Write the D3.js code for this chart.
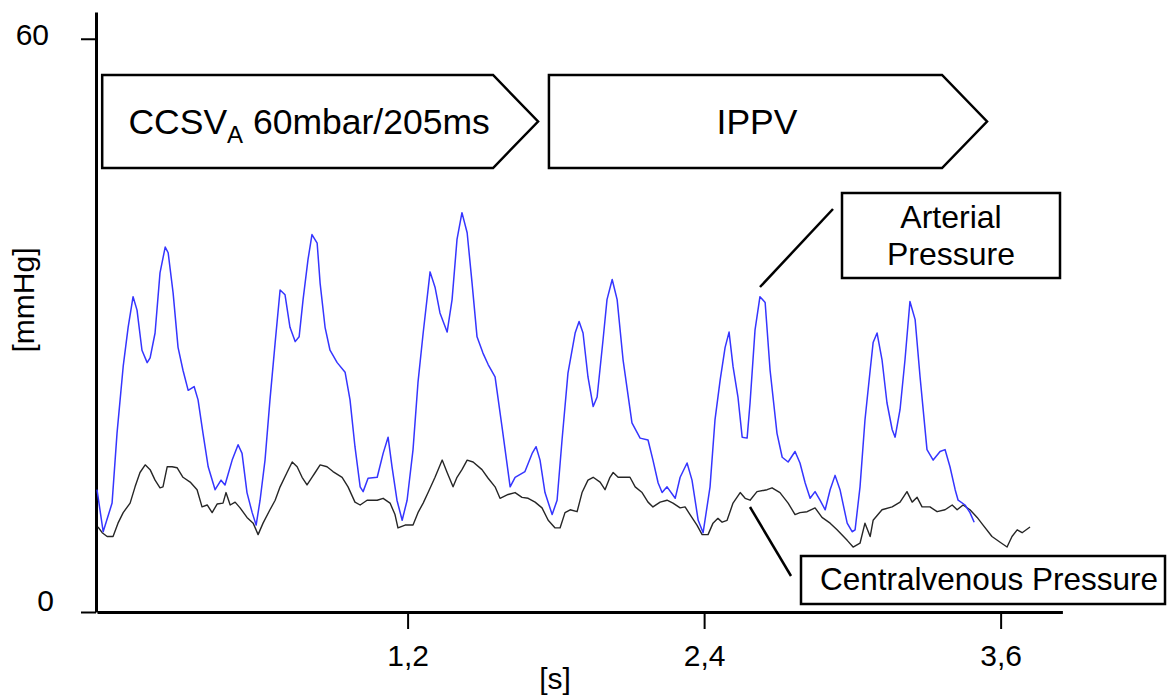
<!DOCTYPE html>
<html>
<head>
<meta charset="utf-8">
<script src="https://cdn.jsdelivr.net/npm/d3@7"></script>
<style>
  body { margin: 0; background: #fff; }
  svg { display: block; font-family: "Liberation Sans", Arial, sans-serif; }
</style>
</head>
<body>
<div id="chart"></div>
<script>
// arterial pressure trace (blue), time in s, pressure in mmHg
var artTime = [-0.057,-0.032,0.004,0.024,0.049,0.069,0.089,0.105,0.125,0.146,0.158,0.178,0.198,0.219,0.231,0.251,0.271,0.291,0.312,0.336,0.352,0.372,0.393,0.421,0.445,0.461,0.490,0.514,0.530,0.550,0.571,0.587,0.603,0.623,0.643,0.664,0.684,0.704,0.724,0.745,0.761,0.777,0.797,0.813,0.834,0.846,0.866,0.886,0.915,0.947,0.967,0.987,1.008,1.020,1.040,1.077,1.101,1.121,1.137,1.157,1.178,1.198,1.222,1.242,1.263,1.291,1.311,1.331,1.360,1.380,1.400,1.420,1.441,1.461,1.481,1.505,1.526,1.554,1.582,1.615,1.635,1.675,1.704,1.720,1.736,1.756,1.785,1.805,1.825,1.849,1.878,1.894,1.910,1.930,1.951,1.967,1.991,2.007,2.028,2.048,2.072,2.108,2.141,2.173,2.193,2.214,2.230,2.250,2.283,2.303,2.331,2.351,2.376,2.396,2.424,2.444,2.465,2.485,2.501,2.517,2.537,2.554,2.574,2.586,2.606,2.626,2.647,2.667,2.695,2.716,2.740,2.768,2.788,2.809,2.829,2.849,2.869,2.890,2.910,2.930,2.950,2.979,2.999,3.011,3.031,3.051,3.072,3.084,3.100,3.120,3.140,3.161,3.173,3.193,3.213,3.233,3.254,3.274,3.302,3.327,3.355,3.375,3.395,3.416,3.428,3.456,3.476,3.493];
var artPressure = [12.8,8.4,11.4,18.7,25.7,29.8,33.0,31.6,27.4,26.1,26.6,29.2,35.5,38.2,37.6,33.4,27.7,25.3,23.2,23.6,22.2,18.7,15.2,12.8,13.8,13.3,15.9,17.5,16.6,12.5,10.4,9.1,11.7,15.9,22.2,28.2,33.7,33.2,29.8,28.3,28.8,32.7,36.9,39.5,38.6,34.4,29.8,27.4,26.1,25.1,22.2,17.3,13.1,12.6,14.0,14.1,16.6,18.3,15.2,11.7,9.6,11.7,17.0,24.0,29.2,35.6,34.0,31.3,29.3,32.7,39.0,41.8,39.7,34.4,28.8,27.1,25.9,24.6,19.4,13.1,14.1,14.7,16.6,17.3,15.9,12.5,10.2,11.7,18.0,25.0,29.2,30.4,29.2,24.6,21.5,22.5,28.5,32.7,34.8,32.7,26.4,19.8,18.2,18.0,15.9,13.5,12.5,13.1,11.9,14.1,15.6,13.8,9.6,8.3,13.1,20.1,24.3,27.7,29.3,25.7,22.5,18.3,18.2,21.9,29.5,33.0,32.4,25.3,18.7,16.2,15.7,16.8,15.6,13.5,11.9,12.6,11.7,10.7,12.8,14.3,12.8,9.3,8.4,8.6,13.1,20.1,25.3,28.2,29.2,26.4,21.9,19.1,18.3,21.2,26.4,32.5,30.6,24.6,17.0,15.9,16.8,17.0,15.2,12.8,11.7,11.2,10.4,9.4];

// central venous pressure trace (black)
var cvpTime = [-0.053,-0.036,-0.016,0.008,0.028,0.049,0.077,0.097,0.117,0.138,0.158,0.178,0.198,0.210,0.227,0.247,0.267,0.291,0.320,0.348,0.368,0.389,0.409,0.429,0.453,0.465,0.482,0.502,0.522,0.550,0.575,0.595,0.615,0.643,0.664,0.684,0.712,0.733,0.753,0.773,0.793,0.813,0.826,0.846,0.874,0.898,0.935,0.959,0.987,1.008,1.036,1.077,1.101,1.129,1.149,1.161,1.190,1.222,1.242,1.263,1.283,1.311,1.340,1.360,1.384,1.400,1.420,1.441,1.465,1.501,1.526,1.554,1.574,1.607,1.635,1.663,1.688,1.716,1.744,1.769,1.797,1.817,1.837,1.858,1.886,1.906,1.930,1.951,1.979,1.999,2.019,2.032,2.052,2.080,2.100,2.121,2.149,2.173,2.193,2.222,2.250,2.274,2.303,2.323,2.343,2.371,2.392,2.416,2.436,2.456,2.473,2.493,2.517,2.546,2.566,2.586,2.614,2.655,2.675,2.707,2.740,2.768,2.788,2.817,2.849,2.877,2.910,2.938,2.979,3.003,3.031,3.051,3.072,3.084,3.120,3.161,3.193,3.221,3.242,3.262,3.282,3.314,3.343,3.375,3.404,3.424,3.448,3.476,3.505,3.529,3.565,3.598,3.626,3.646,3.667,3.687,3.719];
var cvpPressure = [8.9,8.3,7.9,7.9,9.3,10.4,11.4,13.1,14.6,15.4,14.9,13.8,13.0,13.1,15.2,15.2,15.1,14.1,13.6,12.8,11.0,11.2,10.4,11.3,11.4,12.5,11.2,11.5,10.9,9.9,9.3,8.1,9.3,10.7,11.7,13.1,14.6,15.7,15.2,14.1,13.3,14.1,14.6,15.4,15.2,14.7,14.1,13.1,11.5,11.2,11.7,11.7,11.9,11.4,10.2,8.8,9.1,9.1,10.4,11.4,12.5,14.1,15.9,14.6,13.1,14.1,14.9,15.9,15.7,14.9,14.0,13.1,11.9,12.3,12.5,12.0,11.9,11.5,10.9,9.6,8.8,8.8,10.4,10.7,10.5,12.5,13.8,14.1,13.6,12.8,14.1,14.6,14.1,14.1,14.1,13.1,12.5,11.5,11.0,11.5,11.7,11.4,10.9,11.0,10.2,9.1,8.1,8.1,9.3,9.8,9.4,9.6,11.4,12.5,11.9,11.7,12.6,12.8,13.0,12.5,11.4,10.2,10.4,10.5,10.9,9.9,9.3,8.6,7.5,6.8,7.2,9.3,7.9,9.6,10.7,11.0,11.5,12.6,11.5,12.0,11.0,11.0,10.5,10.7,11.2,10.7,11.2,10.7,9.9,9.1,7.9,7.3,6.8,7.9,8.6,8.3,8.9];

// ventilation phases (arrow boxes on top)
var phaseLabels = ["CCSV", "IPPV"];
var phaseSub = ["A", ""];
var phaseRest = [" 60mbar/205ms", ""];
var phaseStart = [-0.036, 1.772];
var phaseEnd = [1.728, 3.545];

var xTicks = [1.2, 2.4, 3.6];
var yTicks = [0, 60];

var width = 1170, height = 696;

var svg = d3.select("#chart").append("svg")
    .attr("width", width)
    .attr("height", height);

var x = d3.scaleLinear().domain([-0.057, 3.85]).range([97, 1062.4]);
var y = d3.scaleLinear().domain([0, 62.8]).range([612, 12]);

var deLocale = d3.formatLocale({ decimal: ",", thousands: ".", grouping: [3], currency: ["", "€"] });
var fmt = deLocale.format(".1f");

// axes
var yAxis = svg.append("g")
    .attr("transform", "translate(96,0)")
    .call(d3.axisLeft(y).tickValues(yTicks).tickSize(15).tickSizeOuter(0).tickPadding(32));
yAxis.select(".domain").attr("stroke-width", 3);
yAxis.selectAll(".tick line").attr("stroke-width", 2);
yAxis.selectAll(".tick text")
    .attr("font-size", 30)
    .attr("font-family", "Liberation Sans, Arial, sans-serif")
    .attr("fill", "#000")
    .attr("dx", function(d) { return d === 0 ? 5 : 0; })
    .attr("dy", function(d) { return d === 0 ? "-0.05em" : "0.2em"; });

var xAxis = svg.append("g")
    .attr("transform", "translate(0,612)")
    .call(d3.axisBottom(x).tickValues(xTicks).tickSize(17).tickSizeOuter(0).tickPadding(16).tickFormat(fmt));
xAxis.select(".domain").attr("stroke-width", 3);
xAxis.selectAll(".tick line").attr("stroke-width", 2);
xAxis.selectAll(".tick text")
    .attr("font-size", 30)
    .attr("font-family", "Liberation Sans, Arial, sans-serif")
    .attr("fill", "#000");

svg.append("text")
    .attr("x", 555).attr("y", 689)
    .attr("text-anchor", "middle")
    .attr("font-size", 30)
    .text("[s]");

svg.append("text")
    .attr("transform", "translate(34,300) rotate(-90)")
    .attr("text-anchor", "middle")
    .attr("font-size", 30)
    .text("[mmHg]");

// traces
var line = d3.line()
    .x(function(d) { return x(d[0]); })
    .y(function(d) { return y(d[1]); });

svg.append("path")
    .datum(d3.zip(cvpTime, cvpPressure))
    .attr("fill", "none")
    .attr("stroke", "#262626")
    .attr("stroke-width", 1.4)
    .attr("stroke-linejoin", "round")
    .attr("d", line);

svg.append("path")
    .datum(d3.zip(artTime, artPressure))
    .attr("fill", "none")
    .attr("stroke", "#3535ff")
    .attr("stroke-width", 1.5)
    .attr("stroke-linejoin", "round")
    .attr("d", line);

// phase arrows
var boxTop = 75, boxBottom = 168, tipLen = 45;
var phases = svg.selectAll(".phase")
  .data(d3.range(phaseLabels.length))
  .enter().append("g")
    .attr("class", "phase");

phases.append("path")
    .attr("fill", "#fff")
    .attr("stroke", "#000")
    .attr("stroke-width", 2.5)
    .attr("d", function(i) {
      var x0 = x(phaseStart[i]), x1 = x(phaseEnd[i]), mid = (boxTop + boxBottom) / 2;
      return "M" + x0 + "," + boxTop + "H" + (x1 - tipLen) + "L" + x1 + "," + mid
        + "L" + (x1 - tipLen) + "," + boxBottom + "H" + x0 + "Z";
    });

var ptext = phases.append("text")
    .attr("x", function(i) { return (x(phaseStart[i]) + x(phaseEnd[i])) / 2 - 11; })
    .attr("y", 134)
    .attr("text-anchor", "middle")
    .attr("font-size", 35.5);
ptext.append("tspan").text(function(i) { return phaseLabels[i]; });
ptext.append("tspan")
    .attr("font-size", 24)
    .attr("dy", 9)
    .text(function(i) { return phaseSub[i]; });
ptext.append("tspan")
    .attr("dy", function(i) { return phaseSub[i] ? -9 : 0; })
    .text(function(i) { return phaseRest[i]; });

// annotations
svg.append("line")
    .attr("x1", 833).attr("y1", 209).attr("x2", 760).attr("y2", 287)
    .attr("stroke", "#000").attr("stroke-width", 2.5);
svg.append("rect")
    .attr("x", 842).attr("y", 193).attr("width", 218).attr("height", 85)
    .attr("fill", "#fff").attr("stroke", "#000").attr("stroke-width", 2.5);
svg.append("text")
    .attr("x", 951).attr("y", 228)
    .attr("text-anchor", "middle").attr("font-size", 32)
    .text("Arterial");
svg.append("text")
    .attr("x", 951).attr("y", 265)
    .attr("text-anchor", "middle").attr("font-size", 32)
    .text("Pressure");

svg.append("line")
    .attr("x1", 750).attr("y1", 507).attr("x2", 791).attr("y2", 576)
    .attr("stroke", "#000").attr("stroke-width", 2.5);
svg.append("rect")
    .attr("x", 801).attr("y", 556).attr("width", 364).attr("height", 48)
    .attr("fill", "#fff").attr("stroke", "#000").attr("stroke-width", 2.5);
svg.append("text")
    .attr("x", 989).attr("y", 590)
    .attr("text-anchor", "middle").attr("font-size", 31.5)
    .text("Centralvenous Pressure");
</script>
</body>
</html>
